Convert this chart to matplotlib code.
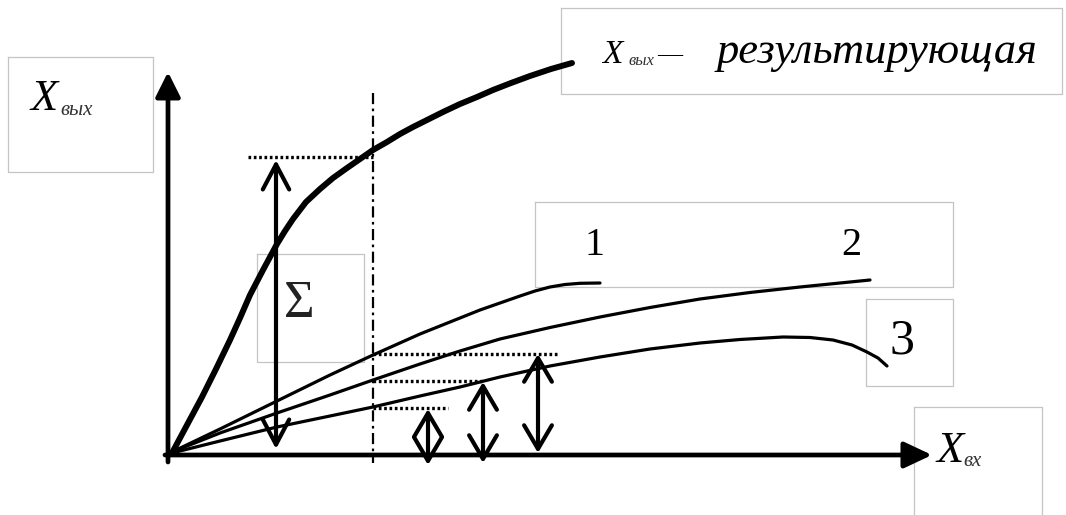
import matplotlib.pyplot as plt

# Diagram drawn in pixel units of the original picture (y grows downward)
W, H = 1066, 515

# Resulting curve and the three partial curves
sum_x = [172, 187, 202, 216, 230, 240, 250, 263, 277, 285, 293, 306, 320, 333, 347,
         360, 373, 387, 400, 413, 427, 443, 460, 477, 493, 511, 530, 551, 572]
sum_y = [453, 425, 397, 369, 340, 318, 295, 270, 244, 231, 219, 202, 189, 178, 168,
         159, 150, 142, 134, 127, 120, 112, 104, 97, 90, 83, 76, 69, 63]

c1_x = [172, 220, 277, 330, 373, 420, 450, 480, 500, 520, 535, 550, 565, 580, 600]
c1_y = [452, 429, 401, 375, 355, 334, 322, 310, 303, 296, 291, 287, 284.5, 283.3, 283]

c2_x = [172, 220, 277, 330, 373, 420, 460, 500, 550, 600, 650, 700, 750, 800, 840, 870]
c2_y = [452, 433, 413, 395, 380, 364, 351, 339, 327.5, 317, 307.5, 299, 292.5, 287, 283, 280]

c3_x = [172, 220, 277, 330, 373, 420, 460, 500, 550, 600, 650, 700, 740, 783, 810,
        833, 852, 867, 878, 887]
c3_y = [453, 441, 427, 416, 407, 396, 387, 377, 366, 357, 349, 343, 339.5, 337, 337.5,
        340, 345, 352, 358, 366]

# Axes origin and arrow tips
origin = (168, 455)
y_tip = 72
x_tip = 932

# Section line at Xвх
x_cut = 373
cut_span = (93, 463)

# Horizontal dotted level lines: (y, x_start, x_end)
levels = [(157, 248, 373), (354, 373, 557), (381, 373, 485), (408, 373, 448)]

# Double arrows: (x, y_top, y_bottom)
sum_arrow = (276, 160, 449)
part_arrows = [(428, 409, 465), (483, 382, 463), (538, 354, 453)]

# Light grey text frames: (x0, y0, x1, y1)
frames = [(8, 57, 153, 172), (561, 8, 1062, 94), (257, 254, 364, 362),
          (535, 202, 953, 287), (866, 299, 953, 386), (914, 407, 1042, 520)]

fig = plt.figure(figsize=(W / 100, H / 100), dpi=100)
ax = fig.add_axes([0, 0, 1, 1])
ax.set_xlim(0, W)
ax.set_ylim(H, 0)
ax.axis('off')

for x0, y0, x1, y1 in frames:
    ax.plot([x0, x1, x1, x0, x0], [y0, y0, y1, y1, y0], color='#c4c4c4', lw=0.9)

# axes with filled arrowheads
ax.annotate('', xy=(origin[0], y_tip), xytext=(origin[0], origin[1] + 7),
            arrowprops=dict(arrowstyle='-|>,head_length=1.5,head_width=0.75',
                            lw=3.4, color='k', shrinkA=0, shrinkB=0))
ax.annotate('', xy=(x_tip, origin[1]), xytext=(origin[0] - 3, origin[1]),
            arrowprops=dict(arrowstyle='-|>,head_length=1.7,head_width=0.8',
                            lw=3.4, color='k', shrinkA=0, shrinkB=0))

# curves
ax.plot(sum_x, sum_y, color='k', lw=4.3, solid_capstyle='round', solid_joinstyle='round')
for cx, cy in [(c1_x, c1_y), (c2_x, c2_y), (c3_x, c3_y)]:
    ax.plot(cx, cy, color='k', lw=2.3, solid_capstyle='round', solid_joinstyle='round')

ax.plot([x_cut, x_cut], cut_span, color='k', lw=1.6, ls=(0, (5, 2, 1.2, 2)))

for yl, xa, xb in levels:
    ax.plot([xa, xb], [yl, yl], color='k', lw=2.4, ls=(0, (0.8, 0.8)))

ax.annotate('', xy=(sum_arrow[0], sum_arrow[1]), xytext=(sum_arrow[0], sum_arrow[2]),
            arrowprops=dict(arrowstyle='<->,head_length=1.8,head_width=0.95',
                            lw=3.0, color='k', shrinkA=0, shrinkB=0))
for ax_x, yt, yb in part_arrows:
    ax.annotate('', xy=(ax_x, yt), xytext=(ax_x, yb),
                arrowprops=dict(arrowstyle='<->,head_length=1.7,head_width=1.0',
                                lw=3.0, color='k', shrinkA=0, shrinkB=0))

serif = 'Liberation Serif'
# labels
ax.text(30, 110, 'X', family=serif, style='italic', fontsize=32)
ax.text(60, 115, 'вых', family=serif, style='italic', fontsize=15, color='#333333')

ax.text(602, 63, 'X', family=serif, style='italic', fontsize=24)
ax.text(628, 65, 'вых', family=serif, style='italic', fontsize=12, color='#333333')
ax.text(657, 60, '—', family=serif, fontsize=18)
ax.text(717, 63, 'результирующая', family=serif, style='italic', fontsize=32)

ax.text(284, 317, 'Σ', family=serif, fontsize=38, color='#222222')
ax.text(584, 255, '1', family=serif, fontsize=29)
ax.text(841, 255, '2', family=serif, fontsize=29)
ax.text(890, 354, '3', family=serif, fontsize=36)

ax.text(936, 462, 'X', family=serif, style='italic', fontsize=32)
ax.text(963, 466, 'вх', family=serif, style='italic', fontsize=15, color='#333333')

fig.savefig('out.png', dpi=100)
